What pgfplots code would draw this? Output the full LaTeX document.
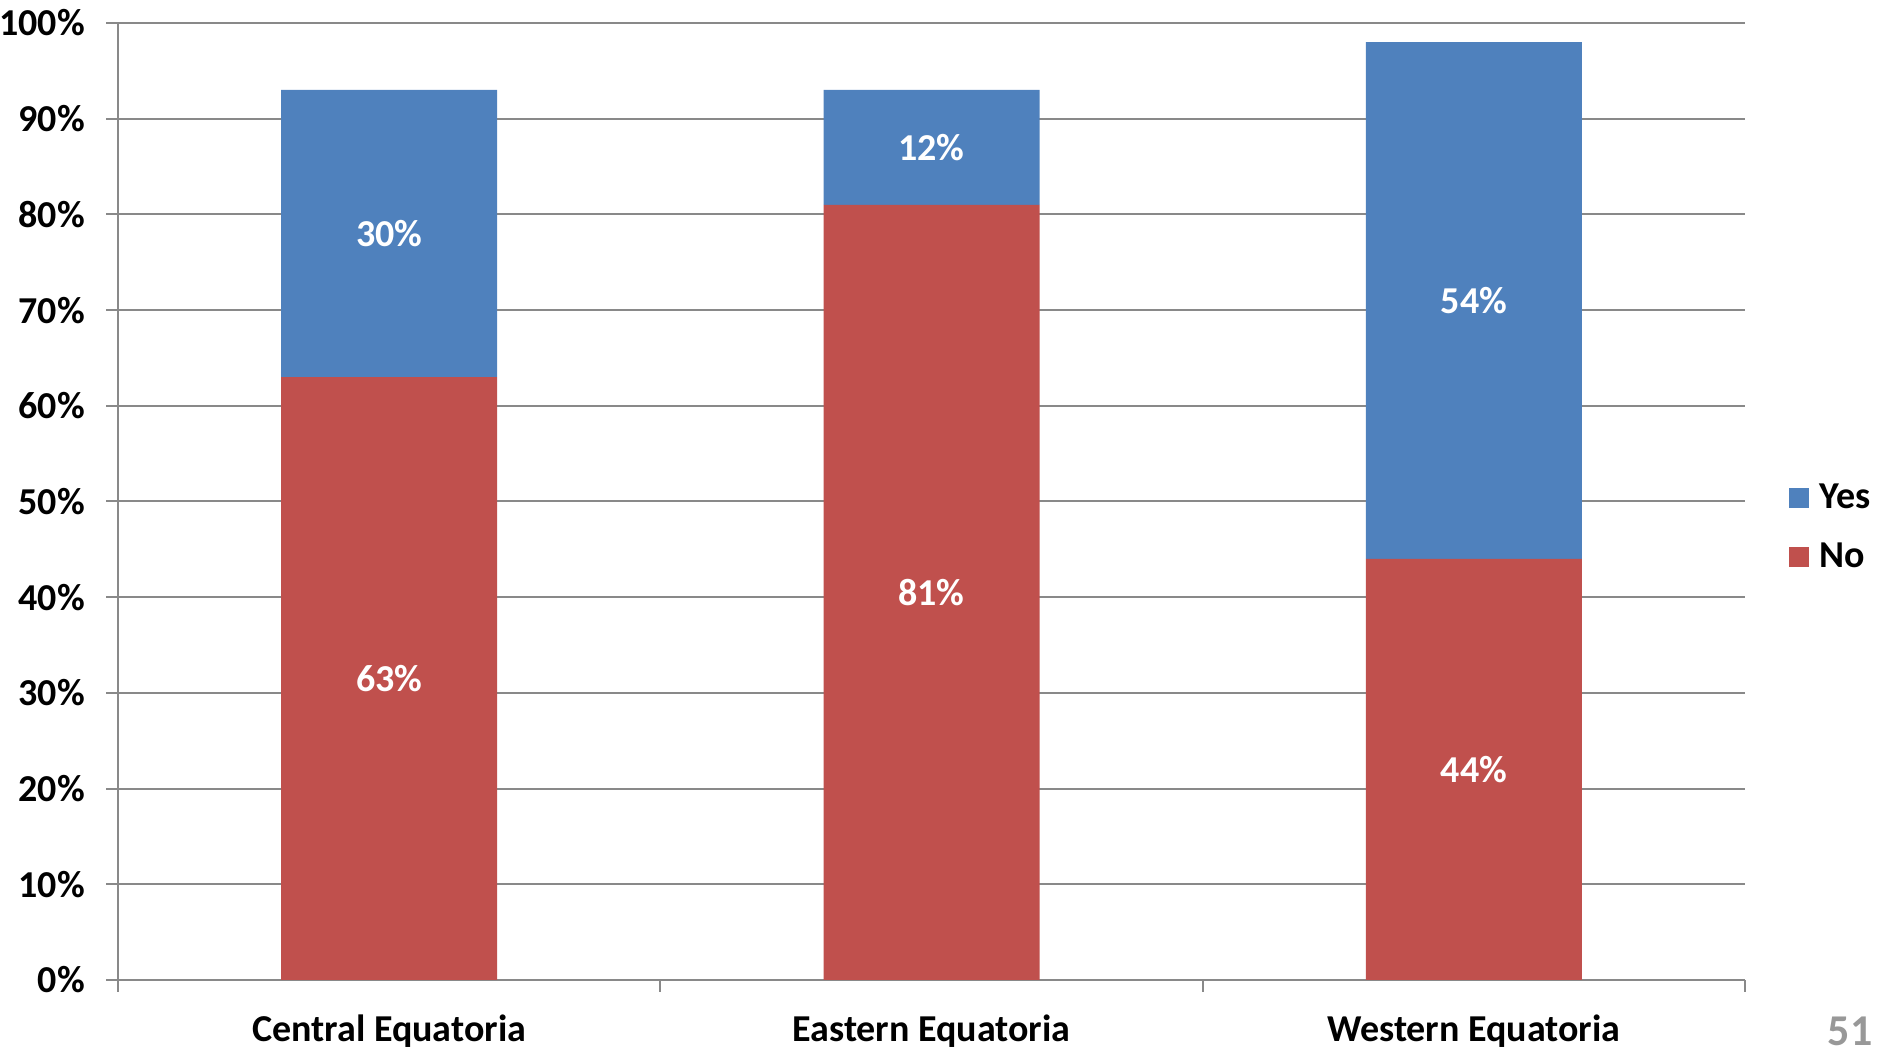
\documentclass[border=0pt]{standalone}
\usepackage{pgfplots}
\pgfplotsset{compat=1.18}
\usepackage{fontspec}
\setmainfont{Carlito}
\definecolor{yesblue}{HTML}{4F81BD}
\definecolor{nored}{HTML}{C0504D}
\definecolor{gridgray}{HTML}{898989}
\definecolor{pagegray}{HTML}{989898}
\begin{document}
\begin{tikzpicture}
\useasboundingbox (0pt,0pt) rectangle (941.5pt,526.5pt);
\begin{axis}[
  at={(59pt,36.5pt)}, anchor=south west,
  scale only axis, width=813.5pt, height=478.5pt,
  ybar stacked, bar width=108pt,
  xmin=-0.5, xmax=2.5, ymin=0, ymax=100,
  axis x line*=bottom, axis y line*=left,
  axis line style={gridgray, line width=1pt, -},
  ymajorgrids, grid style={gridgray, line width=1pt},
  tick align=outside, major tick length=6pt,
  tick style={gridgray, line width=1pt},
  ytick={0,10,...,100},
  yticklabels={0\%,10\%,20\%,30\%,40\%,50\%,60\%,70\%,80\%,90\%,100\%},
  yticklabel style={xshift=-7pt},
  xtick={-0.5,0.5,1.5,2.5}, xticklabels={},
  extra x ticks={0,1,2},
  extra x tick labels={Central Equatoria,Eastern Equatoria,Western Equatoria},
  extra x tick style={major tick length=0pt, grid=none, xticklabel style={yshift=-14pt}},
  ticklabel style={font=\fontsize{19}{23}\selectfont\bfseries, text=black},
  legend style={at={(1.027,0.473)}, anchor=west, draw=none, fill=none,
    font=\fontsize{19}{23}\selectfont\bfseries, row sep=12pt, inner sep=0pt},
  legend cell align=left,
  reverse legend,
]
\addplot[fill=nored, draw=none, legend image code/.code={\fill[nored] (0pt,-5pt) rectangle (10pt,5pt); \path (13pt,0pt);}]
  coordinates {(0,63) (1,81) (2,44)};
\addplot[fill=yesblue, draw=none, legend image code/.code={\fill[yesblue] (0pt,-5pt) rectangle (10pt,5pt); \path (13pt,0pt);}]
  coordinates {(0,30) (1,12) (2,54)};
\legend{No,Yes}
\end{axis}
\begin{axis}[
  at={(59pt,36.5pt)}, anchor=south west,
  scale only axis, width=813.5pt, height=478.5pt,
  xmin=-0.5, xmax=2.5, ymin=0, ymax=100, hide axis,
]
\addplot[draw=none, mark=none, nodes near coords, point meta=explicit symbolic,
  nodes near coords style={anchor=center, text=white, font=\fontsize{19}{23}\selectfont\bfseries}]
  coordinates {(0,31.5)[63\%] (0,78)[30\%] (1,40.5)[81\%] (1,87)[12\%] (2,22)[44\%] (2,71)[54\%]};
\end{axis}
\node[text=pagegray, font=\fontsize{22}{26}\selectfont\bfseries, anchor=center] at (925pt,11pt) {51};
\end{tikzpicture}
\end{document}
